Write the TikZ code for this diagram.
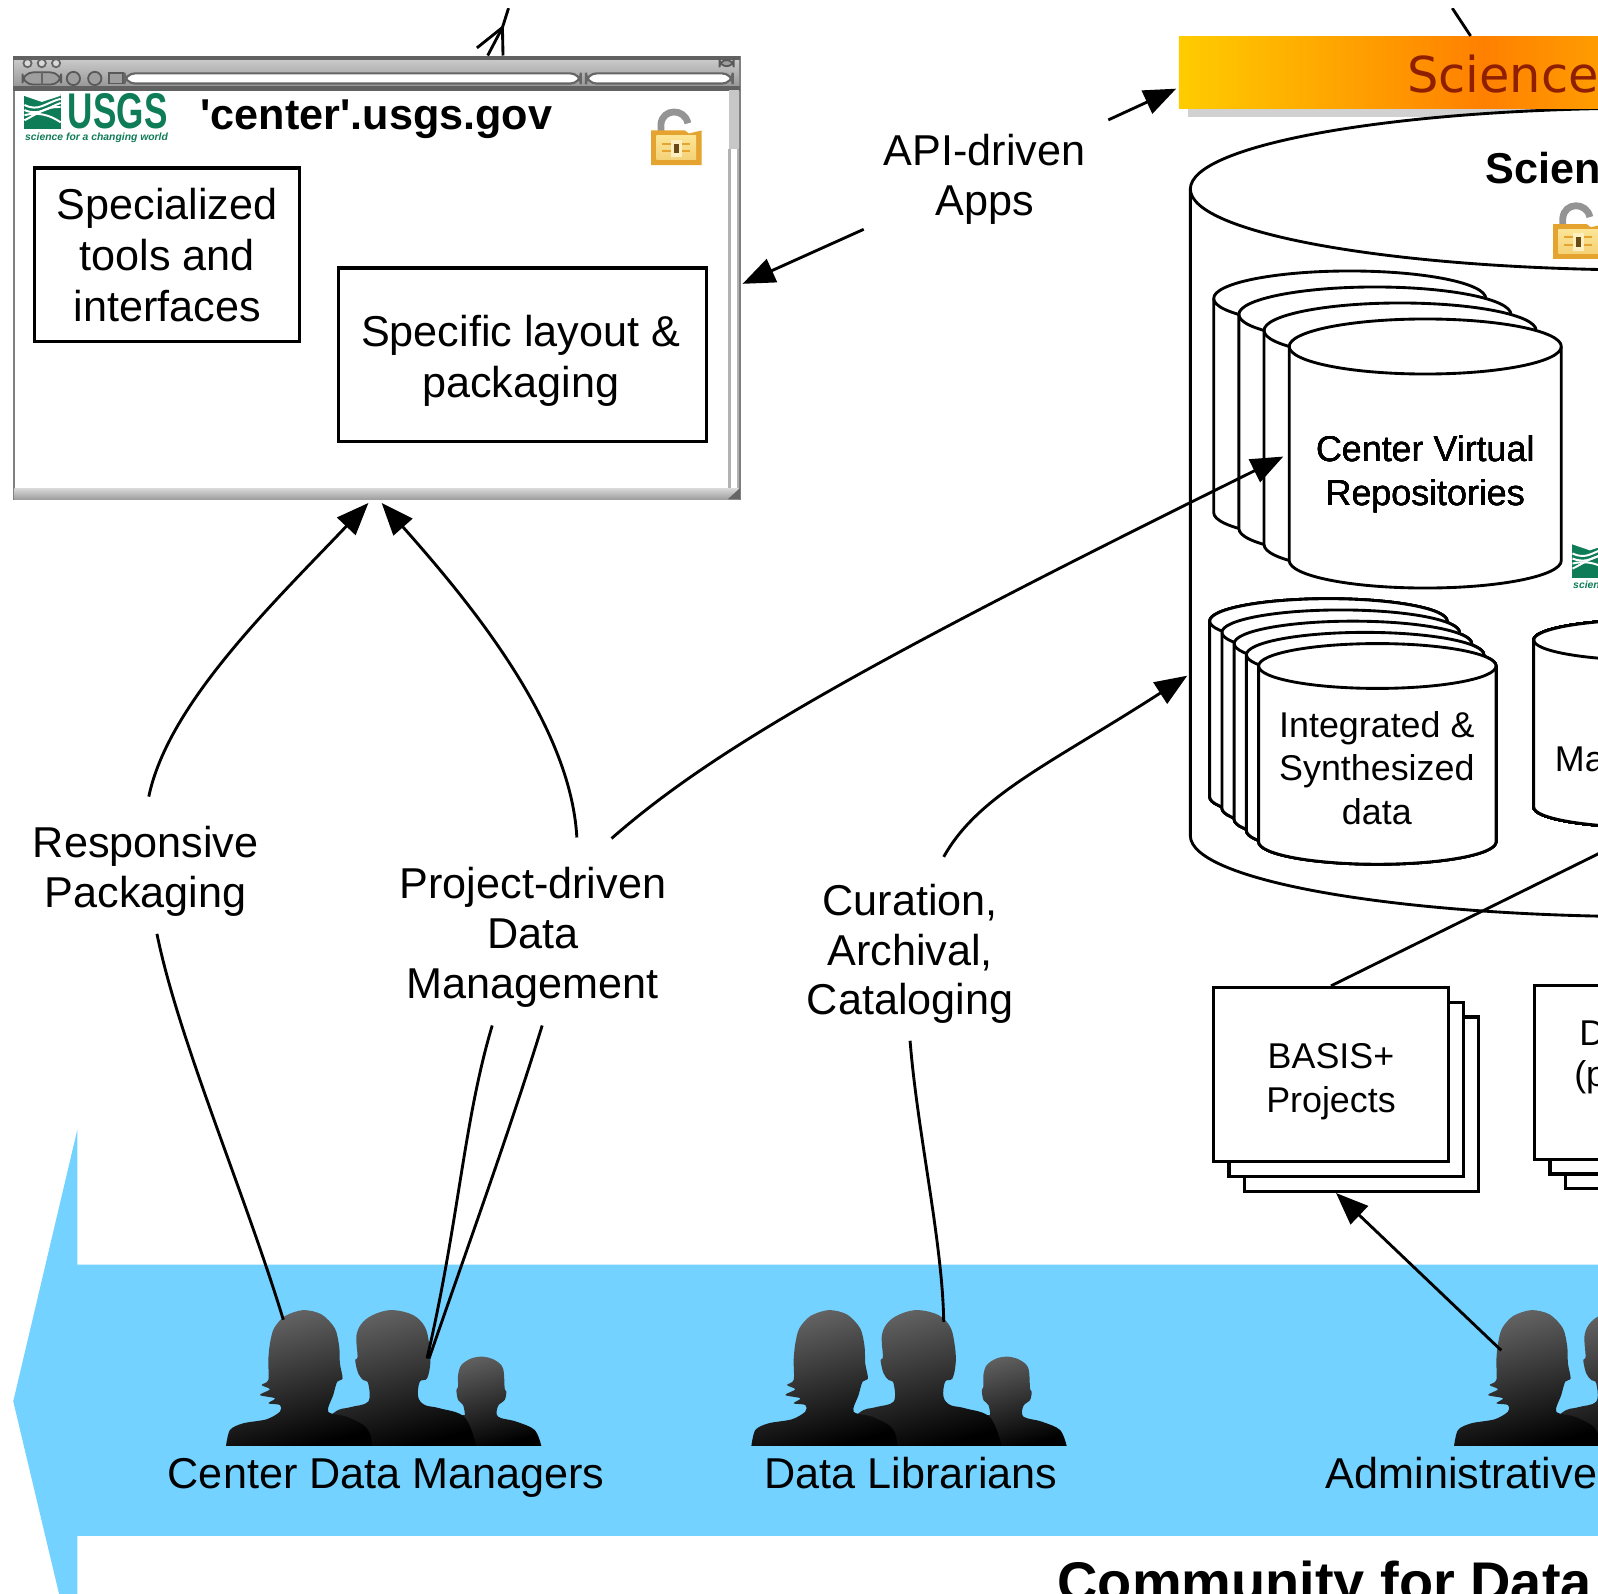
\documentclass[tikz,border=0pt]{standalone}
\usepackage{fontspec}
\usepackage{graphicx}
\setmainfont{Liberation Sans}
\newfontfamily\bannerfont{DejaVu Sans}
\usetikzlibrary{arrows.meta,positioning}

\definecolor{bandblue}{HTML}{73D2FF}
\definecolor{usgsgreen}{HTML}{0E7C57}
\definecolor{bannerred}{HTML}{8E1F00}
\definecolor{bannergold}{HTML}{FFCC00}
\definecolor{bannerorange}{HTML}{FF8000}
\definecolor{lockgold}{HTML}{E5A42F}
\definecolor{locklight}{HTML}{FBE596}

\tikzset{
    arr/.style={line width=0.8pt, -{Triangle[length=9pt,width=7pt]}},
    wire/.style={line width=0.8pt},
    cylline/.style={line width=0.8pt, fill=white},
    flatbox/.style={draw, line width=0.9pt, fill=white, inner sep=0pt, align=center},
    biglabel/.style={font=\fontsize{12.05}{14.2}\selectfont, align=center, inner sep=0pt, outer sep=7pt},
    tightlabel/.style={biglabel, font=\fontsize{12.05}{13.9}\selectfont},
    smalllabel/.style={font=\fontsize{10}{12.1}\selectfont, align=center, inner sep=0pt},
    head/.style={font=\fontsize{12.05}{14.2}\selectfont\bfseries, inner sep=0pt},
    person/.style={draw=none, top color=black!60, bottom color=black, shading angle=15},
    winpart/.style={draw=black!65, fill=black!38, line width=0.5pt}
}

% left, width, top, height, radius
\newcommand{\datacyl}[5]{
    \draw[cylline] (#1,#3) -- (#1,#3+#4)
        arc[start angle=180,end angle=0,x radius=#2/2,y radius=#5]
        -- (#1+#2,#3)
        arc[start angle=0,end angle=-180,x radius=#2/2,y radius=#5] -- cycle;
    \draw[line width=0.8pt] (#1,#3)
        arc[start angle=180,end angle=0,x radius=#2/2,y radius=#5];
}

% open padlock, shifted from the one in the window
\newcommand{\lockicon}[2]{
    \begin{scope}[shift={(#1,#2)}]
        \draw[line width=1.9pt, black!42] (648.5,129) -- (648.5,122)
            .. controls (650,106) and (672,106) .. (675,121);
        \fill[lockgold] (639,128) -- (672,128) -- (676,131) -- (688.5,128) -- (688.5,162) -- (639,162) -- cycle;
        \path[top color=locklight, bottom color=locklight!70!lockgold] (644,133) rectangle (683,157);
        \fill[lockgold] (650,140) rectangle (677,142);
        \fill[lockgold] (650,147) rectangle (677,149);
        \fill[locklight!60!white] (658,137) rectangle (669,154);
        \fill[black!55!lockgold] (661,141) rectangle (666,150);
    \end{scope}
}

% green mark and lettering
\newcommand{\usgslogo}[3]{
    \begin{scope}[shift={(#1,#2)}]
        \fill[usgsgreen] (23.5,92) rectangle (59.5,127);
        \fill[white] (23.5,92) -- (59.5,92) -- (59.5,94) -- (41,100) -- (23.5,94) -- cycle;
        \draw[white, line width=0.55pt] (24,103) .. controls (38,110) and (44,101) .. (59.5,97);
        \draw[white, line width=0.55pt] (24,108) .. controls (38,114) and (46,106) .. (59.5,101);
        \draw[white, line width=0.55pt] (24,118) .. controls (36,112) and (46,104) .. (59.5,105);
        \draw[white, line width=0.55pt] (24,113) .. controls (36,110) and (48,112) .. (59.5,120);
        \node[anchor=west, inner sep=0pt, text=usgsgreen] (usgsword#3) at (66,109.5)
            {\scalebox{0.7}[1]{\fontsize{14}{14}\selectfont\bfseries USGS}};
        \node[anchor=west, inner sep=0pt, text=usgsgreen] (usgstag#3) at (24,135)
            {\resizebox{1.4cm}{!}{\bfseries\itshape science for a changing world}};
    \end{scope}
}

% three heads, traced in a unit of their own
\newcommand{\peoplegroup}[1]{
    \begin{scope}[shift={(196.3+#1,1256.1)},x=0.00327cm,y=-0.00327cm]
        % child
        \path[person] plot[smooth,tension=0.55] coordinates {(640,498) (780,410) (795,408) (790,375) (775,360) (770,330) (775,320)
            (775,285) (785,255) (815,235) (850,230) (885,240) (910,265) (915,325) (920,335) (915,360) (895,378) (895,410)
            (950,425) (1005,450) (1025,498)} -- cycle;
        % man
        \path[person] plot[smooth,tension=0.6] coordinates {(305,498) (400,400) (450,382) (505,365) (505,310) (490,300) (475,280)
            (466,240) (473,230) (470,165) (490,125) (530,100) (580,90) (640,105) (675,140) (688,190) (692,245) (682,295)
            (660,305) (655,350) (675,375) (720,385) (795,412) (830,498)} -- cycle;
        % woman
        \path[person] plot[smooth,tension=0.5] coordinates {(78,498) (90,450) (130,430) (200,418) (240,395) (240,375) (205,370)
            (225,355) (180,345) (210,328) (185,315) (205,300) (205,240) (210,190) (222,145) (255,108) (310,90) (365,103)
            (405,145) (418,200) (420,250) (428,295) (412,305) (400,345) (385,395) (440,410) (490,435) (510,460) (517,498)} -- cycle;
    \end{scope}
}

\begin{document}
\begin{tikzpicture}[x=0.01cm,y=-0.01cm]
    \useasboundingbox (0,0) rectangle (1568,1564);
    \clip (0,8) rectangle (1568,1564);

    % Community band
    \fill[bandblue] (76,1241) -- (1600,1241) -- (1600,1507) -- (76,1507) -- (76,1640)
        -- (13,1375) -- (76,1108) -- cycle;
    \node[font=\fontsize{15.6}{18}\selectfont\bfseries, anchor=base west, inner sep=0pt] (community) at (1037,1571) {Community for Data};

    % Banner shadow
    \fill[black!18] (1166,104) rectangle (1800,115);

    % Repository cylinders
    \datacyl{1168}{910}{185.5}{634.5}{79.5}
    \foreach \i in {3,2,1,0}
        \datacyl{1265-24.7*\i}{267}{340-15.7*\i}{210}{27}
    \foreach \i in {4,3,2,1,0}
        \datacyl{1235-12*\i}{233}{653.5-11*\i}{172.5}{22}
    \datacyl{1505}{233}{628}{164}{20}
    \node[smalllabel, minimum width=2.67cm] (cvr) at (1398.5,465.5) {Center Virtual\\Repositories};
    \node[smalllabel] (integrated) at (1351,753.5) {Integrated \&\\Synthesized\\data};
    \node[smalllabel, anchor=west] (master) at (1525,745) {Ma};
    \node[head, anchor=west] (sciencehead) at (1457,165) {Scien};
    \lockicon{885}{92}
    \usgslogo{1519}{440}{B}

    % Banner
    \node[left color=bannergold, right color=bannergold, middle color=bannerorange, minimum width=5.98cm, minimum height=0.7cm, inner sep=0pt] (banner) at (1456,71) {};
    \node[font=\fontsize{13.8}{16}\bannerfont, text=bannerred, anchor=west, inner sep=0pt] (bannertext) at (1380,73) {Science};

    % Browser window
    \node[draw=black!50, line width=0.8pt, fill=white, minimum width=7.11cm, minimum height=4.33cm, inner sep=0pt] (win) at (369.5,272.5) {};
    \path[top color=black!20, bottom color=black!42] (14,57) rectangle (725,87);
    \draw[black!62, line width=0.9pt] (13,57) -- (726,57);
    \draw[black!62, line width=1.3pt] (13,87) -- (726,87);
    \path[top color=black!15, bottom color=black!38] (14,479) rectangle (725,490);
    \fill[black!60] (714,490) -- (726,479) -- (726,490) -- cycle;
    \fill[black!22] (715,88) rectangle (725,146);
    \draw[black!30, line width=0.7pt] (716,146) -- (716,479);
    \draw[black!30, line width=0.7pt] (724,146) -- (724,479);
    \foreach \x in {27,41,55}
        \draw[black!60, fill=black!15, line width=0.5pt] (\x,62) circle (4);
    \draw[winpart, rounded corners=2pt] (706,59) rectangle (720,65);
    \draw[winpart, rounded corners=3pt] (22,71) rectangle (60,83);
    \draw[black!60, line width=0.5pt] (41,71) -- (41,83);
    \foreach \x in {72,93}
        \draw[winpart] (\x,77) circle (6.5);
    \draw[winpart] (107,72) rectangle (121,82);
    \draw[black!60, fill=white, line width=0.6pt, rounded corners=3pt] (122,72) rectangle (570,82);
    \draw[black!60, fill=white, line width=0.6pt, rounded corners=3pt] (575,72) rectangle (719,82);
    \usgslogo{0}{0}{A}
    \node[head, anchor=base west] (centertitle) at (196,127) {\textquotesingle center\textquotesingle .usgs.gov};
    \lockicon{0}{0}
    \node[flatbox, font=\fontsize{12.05}{14.2}\selectfont, minimum width=2.6cm, minimum height=1.7cm] (tools) at (164,250) {Specialized\\tools and\\interfaces};
    \node[flatbox, minimum width=3.61cm, minimum height=1.7cm] (layout) at (512.5,348) {};
    \node[biglabel, outer sep=0pt] (layouttext) at (511,354) {Specific layout \&\\packaging};

    % Labels
    \node[biglabel] (api) at (966,176) {API-driven\\Apps};
    \node[biglabel] (responsive) at (143,855) {Responsive\\Packaging};
    \node[tightlabel] (project) at (523,920) {Project-driven\\Data\\Management};
    \node[tightlabel] (curation) at (893,936) {Curation,\\Archival,\\Cataloging};

    % Project boxes
    \foreach \i in {2,1}
        \node[flatbox, minimum width=2.30cm, minimum height=1.71cm] (basis\i) at (1306+15*\i,1054.5+14.5*\i) {};
    \node[flatbox, minimum width=2.30cm, minimum height=1.71cm] (basis) at (1306,1054.5) {};
    \node[smalllabel] (basistext) at (1306,1061.5) {BASIS+\\Projects};
    \foreach \i in {2,1}
        \node[flatbox, minimum width=2.30cm, minimum height=1.71cm] (data\i) at (1621+15*\i,1052.5+14*\i) {};
    \node[flatbox, minimum width=2.30cm, minimum height=1.71cm] (data) at (1621,1052.5) {};
    \node[smalllabel, anchor=west] (dataline) at (1549,1014) {D};
    \node[smalllabel, anchor=west] (dataparen) at (1544,1057) {(p};

    % People
    \peoplegroup{0}
    \peoplegroup{515.5}
    \peoplegroup{1205}
    \node[biglabel, outer sep=0pt, anchor=base] (managers) at (379,1461) {Center Data Managers};
    \node[biglabel, outer sep=0pt, anchor=base] (librarians) at (894,1461) {Data Librarians};
    \node[biglabel, outer sep=0pt, anchor=base west] (admins) at (1301,1461) {Administrative};
    \coordinate (womanA) at (278,1295);
    \coordinate (manA) at (419,1333);
    \coordinate (manAb) at (421,1333);
    \coordinate (womanB) at (926,1297);
    \coordinate (womanC) at (1473,1325);
    \coordinate (bigcyl) at (1165,663);
    \coordinate (offright) at (1580,832);
    \coordinate (topjoin) at (493,27);
    \coordinate (topend) at (499,8);
    \coordinate (topright) at (1425,8);
    \coordinate (topforkA) at (468,47);

    % Connections
    \draw[arr] ([xshift=0.05cm,yshift=-0.49cm]api.west) -- ([xshift=0.02cm,yshift=-0.06cm]win.east);
    \draw[arr] ([xshift=-0.02cm,yshift=-0.11cm]api.north east) -- ([xshift=-0.02cm,yshift=-0.16cm]banner.west);
    \draw[arr] ([xshift=0.03cm,yshift=0.04cm]responsive.north) .. controls (165,690) and (270,590) .. ([xshift=-0.08cm,yshift=-0.03cm]win.south);
    \draw[arr] ([xshift=0.43cm,yshift=0.05cm]project.north) .. controls (560,710) and (460,590) .. ([xshift=0.05cm,yshift=-0.03cm]win.south);
    \draw[arr] ([xshift=0.77cm,yshift=0.04cm]project.north) .. controls (700,735) and (850,650) .. ([xshift=-0.05cm,yshift=0.175cm]cvr.west);
    \draw[arr] ([xshift=0.33cm,yshift=0.02cm]curation.north) .. controls (960,780) and (1030,750) .. (bigcyl);
    \draw[wire] ([xshift=0.11cm,yshift=0.08cm]responsive.south) .. controls (175,1020) and (240,1170) .. (womanA);
    \draw[wire] ([xshift=-0.40cm,yshift=0.07cm]project.south) .. controls (455,1100) and (450,1200) .. (manA);
    \draw[wire] ([xshift=0.09cm,yshift=0.07cm]project.south) .. controls (500,1110) and (460,1220) .. (manAb);
    \draw[wire] ([yshift=0.08cm]curation.south) .. controls (900,1110) and (925,1220) .. (womanB);
    \draw[arr] (womanC) -- ([xshift=-0.25cm]basis2.south);
    \draw[wire] (basis.north) -- (offright);
    \draw[wire] (topright) -- ([xshift=-0.13cm]banner.north);
    \draw[wire] (topend) -- (topjoin);
    \draw[wire] (topjoin) -- (topforkA);
    \draw[wire] (topjoin) -- ([xshift=1.09cm]win.north);
    \draw[wire] (topjoin) -- ([xshift=1.24cm]win.north);
\end{tikzpicture}
\end{document}
